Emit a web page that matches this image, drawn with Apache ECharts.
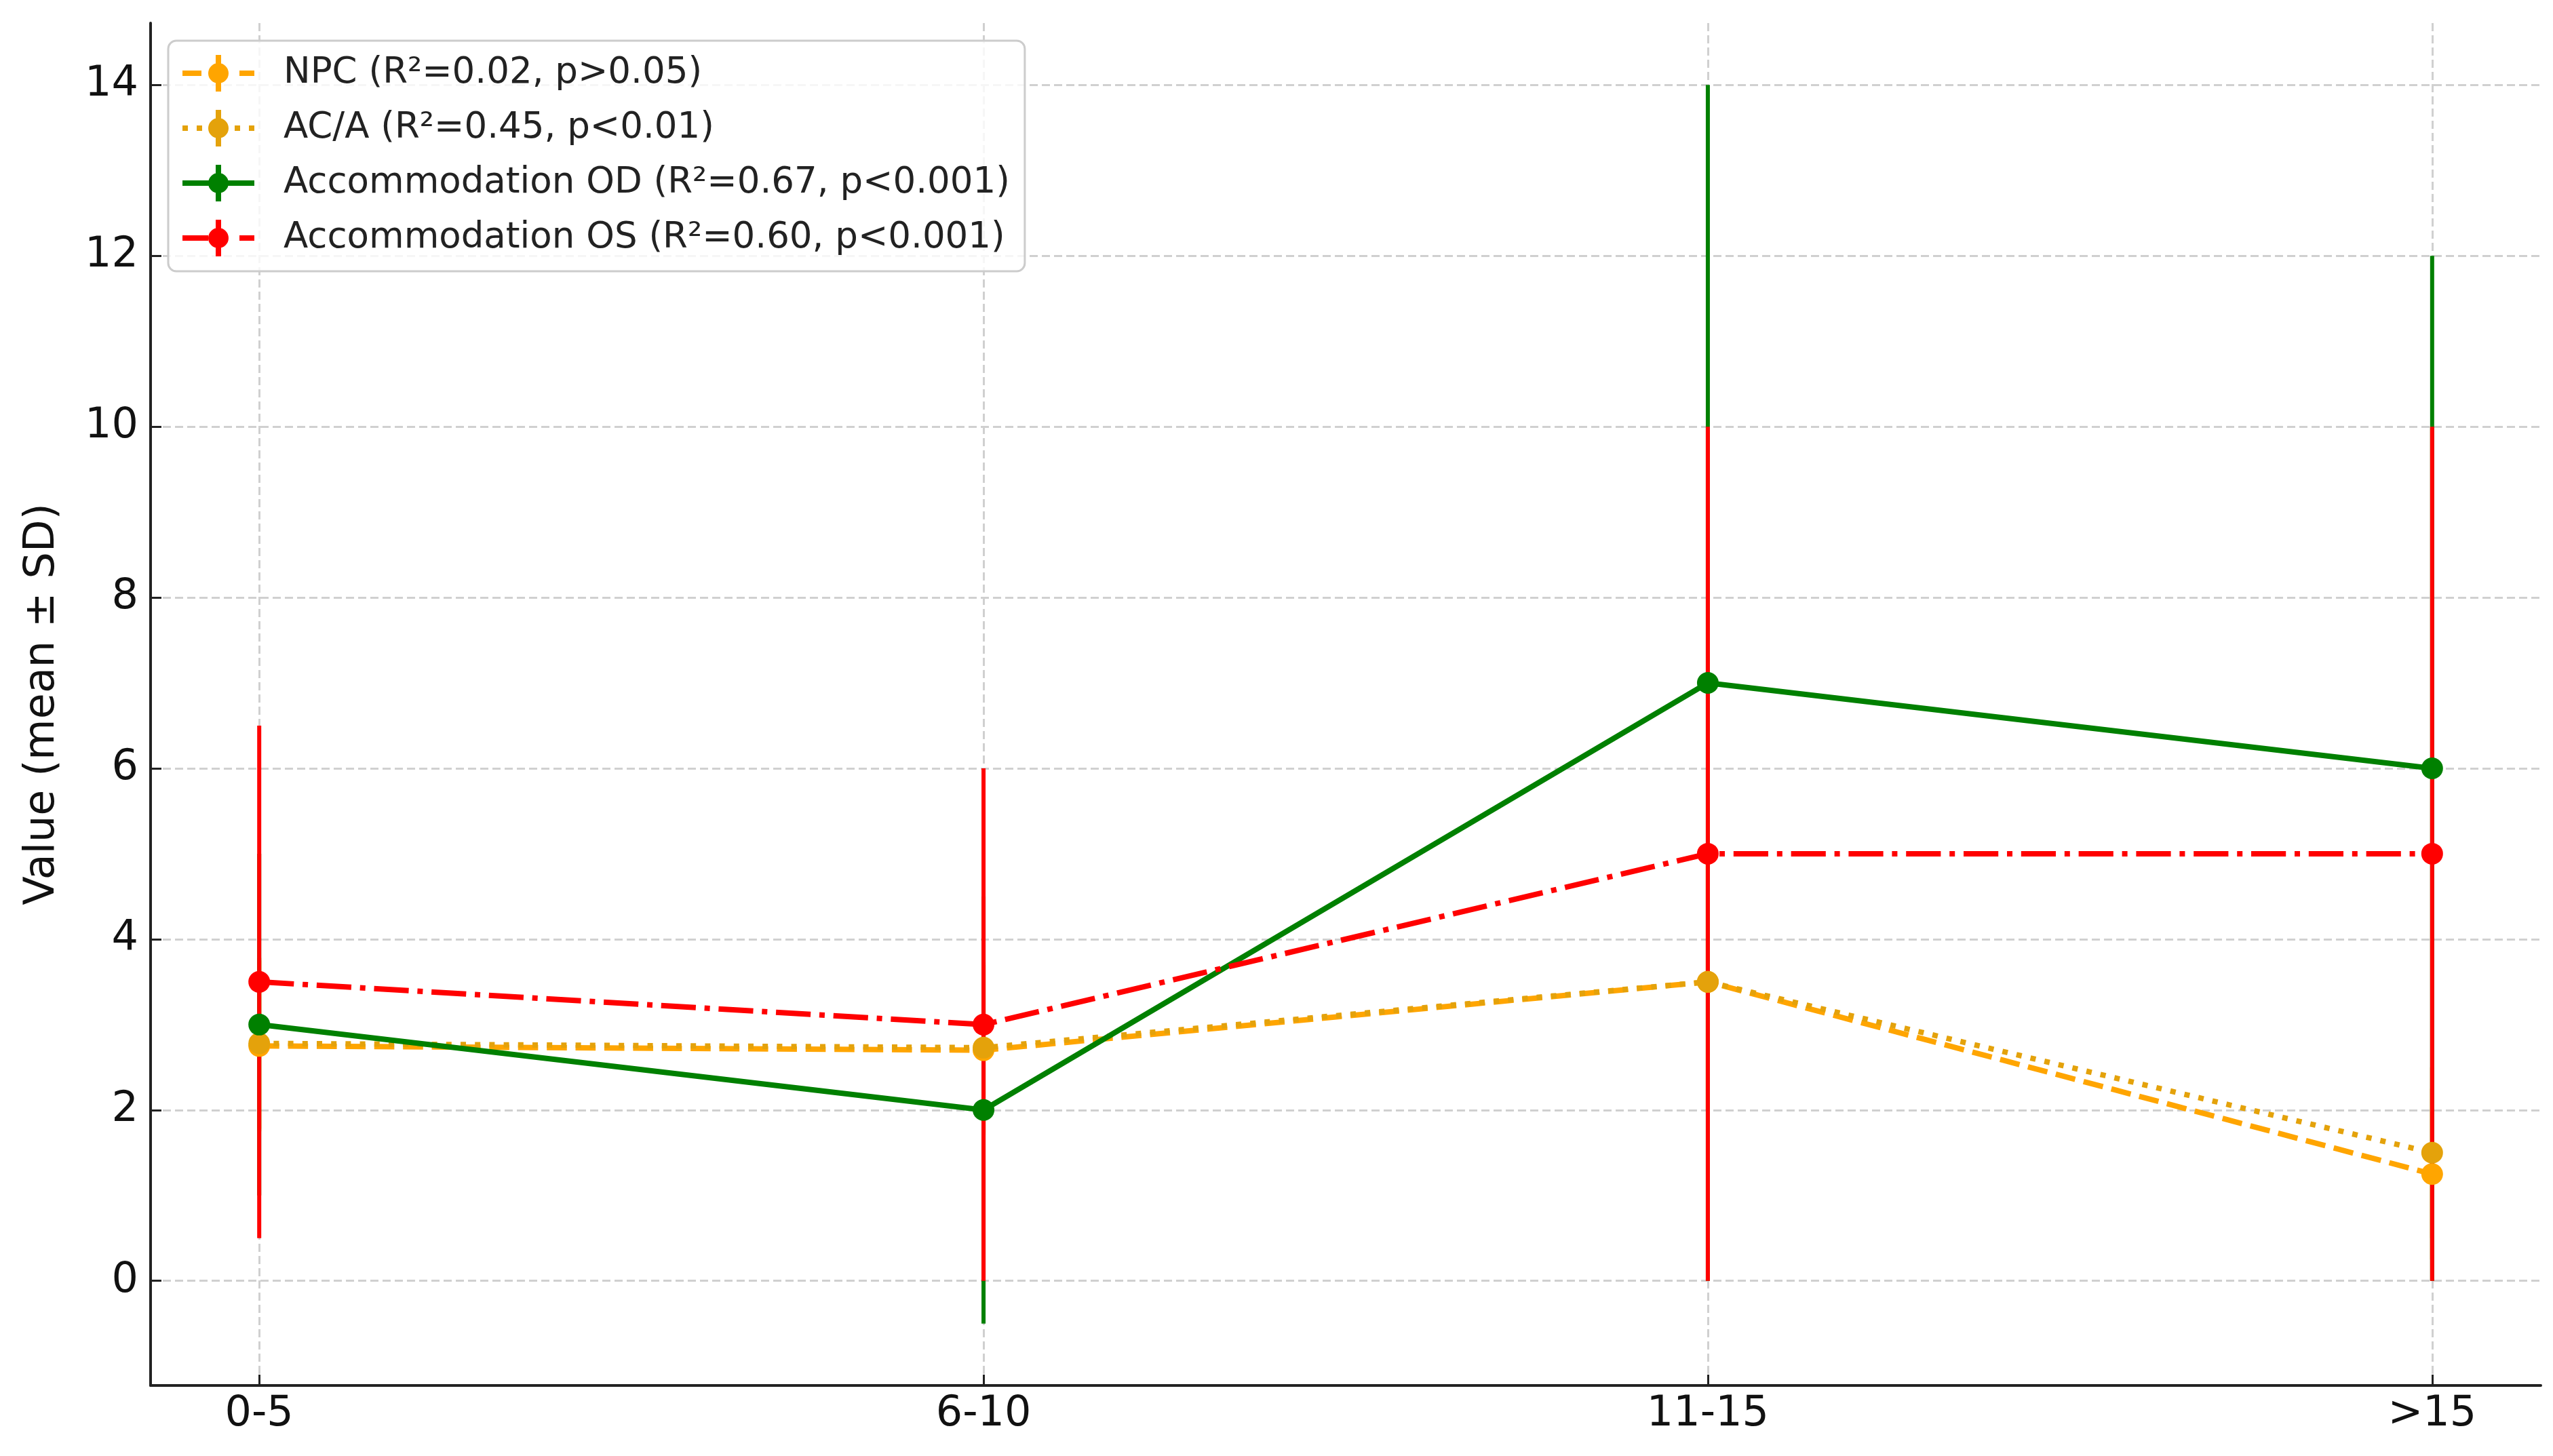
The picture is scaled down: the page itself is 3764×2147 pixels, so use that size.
<!DOCTYPE html>
<html>
<head>
<meta charset="utf-8">
<script src="https://cdn.jsdelivr.net/npm/echarts@6/dist/echarts.min.js"></script>
<style>
html,body{margin:0;padding:0;background:#fff;}
#chart{width:3764px;height:2147px;}
</style>
</head>
<body>
<div id="chart"></div>
<script>
// ---- data ----
const categories = ['0-5', '6-10', '11-15', '>15'];
const yTickValues = [0, 2, 4, 6, 8, 10, 12, 14];

const seriesNames = [
  'NPC (R\u00B2=0.02, p>0.05)',
  'AC/A (R\u00B2=0.45, p<0.01)',
  'Accommodation OD (R\u00B2=0.67, p<0.001)',
  'Accommodation OS (R\u00B2=0.60, p<0.001)'
];

const npcMean = [2.75, 2.7, 3.5, 1.25];
const npcSD   = [1.0, 1.0, 1.5, 1.0];
const acaMean = [2.78, 2.73, 3.5, 1.5];
const acaSD   = [1.0, 1.0, 1.5, 1.0];
const odMean  = [3.0, 2.0, 7.0, 6.0];
const odSD    = [2.0, 2.5, 7.0, 6.0];
const osMean  = [3.5, 3.0, 5.0, 5.0];
const osSD    = [3.0, 3.0, 5.0, 5.0];

// ---- styling ----
const colors = ['#FFA500', '#E4A20B', '#008000', '#FF0000'];
const lineW = 8;
const dashTypes = [
  [3.7 * lineW, 1.6 * lineW],                          // dashed
  [1 * lineW, 1.65 * lineW],                           // dotted
  'solid',
  [6.4 * lineW, 1.6 * lineW, 1 * lineW, 1.6 * lineW]   // dash-dot
];
const bar = 'M49,0h8v54h-8z';
const circ = 'M38,27a15,15 0 1,1 30,0a15,15 0 1,1 -30,0z';
const legendIcons = [
  'path://M0,23h28v8h-28zM84,23h22v8h-22z' + bar + circ,
  'path://M0,23h8v8h-8zM21,23h8v8h-8zM77,23h8v8h-8zM98,23h8v8h-8z' + bar + circ,
  'path://M0,23h106v8h-106z' + bar + circ,
  'path://M0,23h38v8h-38zM84,23h22v8h-22z' + bar + circ
];

const means = [npcMean, acaMean, odMean, osMean];
const sds = [npcSD, acaSD, odSD, osSD];

const series = [];
// error bars (below lines)
means.forEach((m, s) => {
  series.push({
    type: 'custom',
    name: seriesNames[s] + ' SD',
    coordinateSystem: 'cartesian2d',
    z: 1,
    silent: true,
    data: categories.map((c, i) => [i, m[i] - sds[s][i], m[i] + sds[s][i]]),
    encode: { x: 0, y: [1, 2] },
    renderItem: function (params, api) {
      const p1 = api.coord([api.value(0), api.value(1)]);
      const p2 = api.coord([api.value(0), api.value(2)]);
      return {
        type: 'line',
        shape: { x1: p1[0], y1: p1[1], x2: p2[0], y2: p2[1] },
        style: { stroke: colors[s], lineWidth: 6 }
      };
    }
  });
});
// mean lines with markers
means.forEach((m, s) => {
  series.push({
    type: 'line',
    name: seriesNames[s],
    z: 2,
    data: categories.map((c, i) => [i, m[i]]),
    symbol: 'circle',
    symbolSize: 32,
    showSymbol: true,
    itemStyle: { color: colors[s], borderWidth: 0 },
    lineStyle: { color: colors[s], width: lineW, type: dashTypes[s], cap: 'butt' },
    emphasis: { disabled: true }
  });
});

const gridLine = { show: true, lineStyle: { color: '#d0d0d0', width: 3, type: [12, 6] } };
const font = 'DejaVu Sans';

const option = {
  animation: false,
  backgroundColor: '#ffffff',
  grid: { left: 222, top: 34, right: 18, bottom: 104, containLabel: false },
  xAxis: {
    type: 'value',
    min: -0.15,
    max: 3.15,
    axisLine: { show: true, onZero: false, lineStyle: { color: '#222', width: 4 } },
    axisTick: { show: true, inside: true, length: 16, customValues: [0, 1, 2, 3], lineStyle: { color: '#222', width: 3 } },
    axisLabel: {
      customValues: [0, 1, 2, 3],
      formatter: function (v) { return categories[Math.round(v)]; },
      fontFamily: font, fontSize: 62, color: '#111', margin: 12
    },
    splitLine: gridLine
  },
  yAxis: {
    type: 'value',
    min: -1.225,
    max: 14.725,
    name: 'Value (mean \u00B1 SD)',
    nameLocation: 'middle',
    nameGap: 128,
    nameRotate: 90,
    nameTextStyle: { fontFamily: font, fontSize: 62, color: '#111' },
    axisLine: { show: true, onZero: false, lineStyle: { color: '#222', width: 4 } },
    axisTick: { show: true, inside: true, length: 16, customValues: yTickValues, lineStyle: { color: '#222', width: 3 } },
    axisLabel: { customValues: yTickValues, fontFamily: font, fontSize: 62, color: '#111', margin: 18 },
    splitLine: gridLine
  },
  legend: {
    show: true,
    orient: 'vertical',
    align: 'left',
    left: 248,
    top: 60,
    padding: [21, 22, 22, 21],
    itemWidth: 106,
    itemHeight: 54,
    itemGap: 27,
    backgroundColor: 'rgba(255,255,255,0.8)',
    borderColor: '#cccccc',
    borderWidth: 3,
    borderRadius: 12,
    selectedMode: false,
    textStyle: { fontFamily: font, fontSize: 53, color: '#222', lineHeight: 54, padding: [0, 0, 0, 38] },
    data: seriesNames.map((n, s) => ({
      name: n,
      icon: legendIcons[s],
      itemStyle: { color: colors[s], borderWidth: 0 }
    }))
  },
  series: series
};

const chart = echarts.init(document.getElementById('chart'), null, { renderer: 'canvas' });
chart.setOption(option);
</script>
</body>
</html>
